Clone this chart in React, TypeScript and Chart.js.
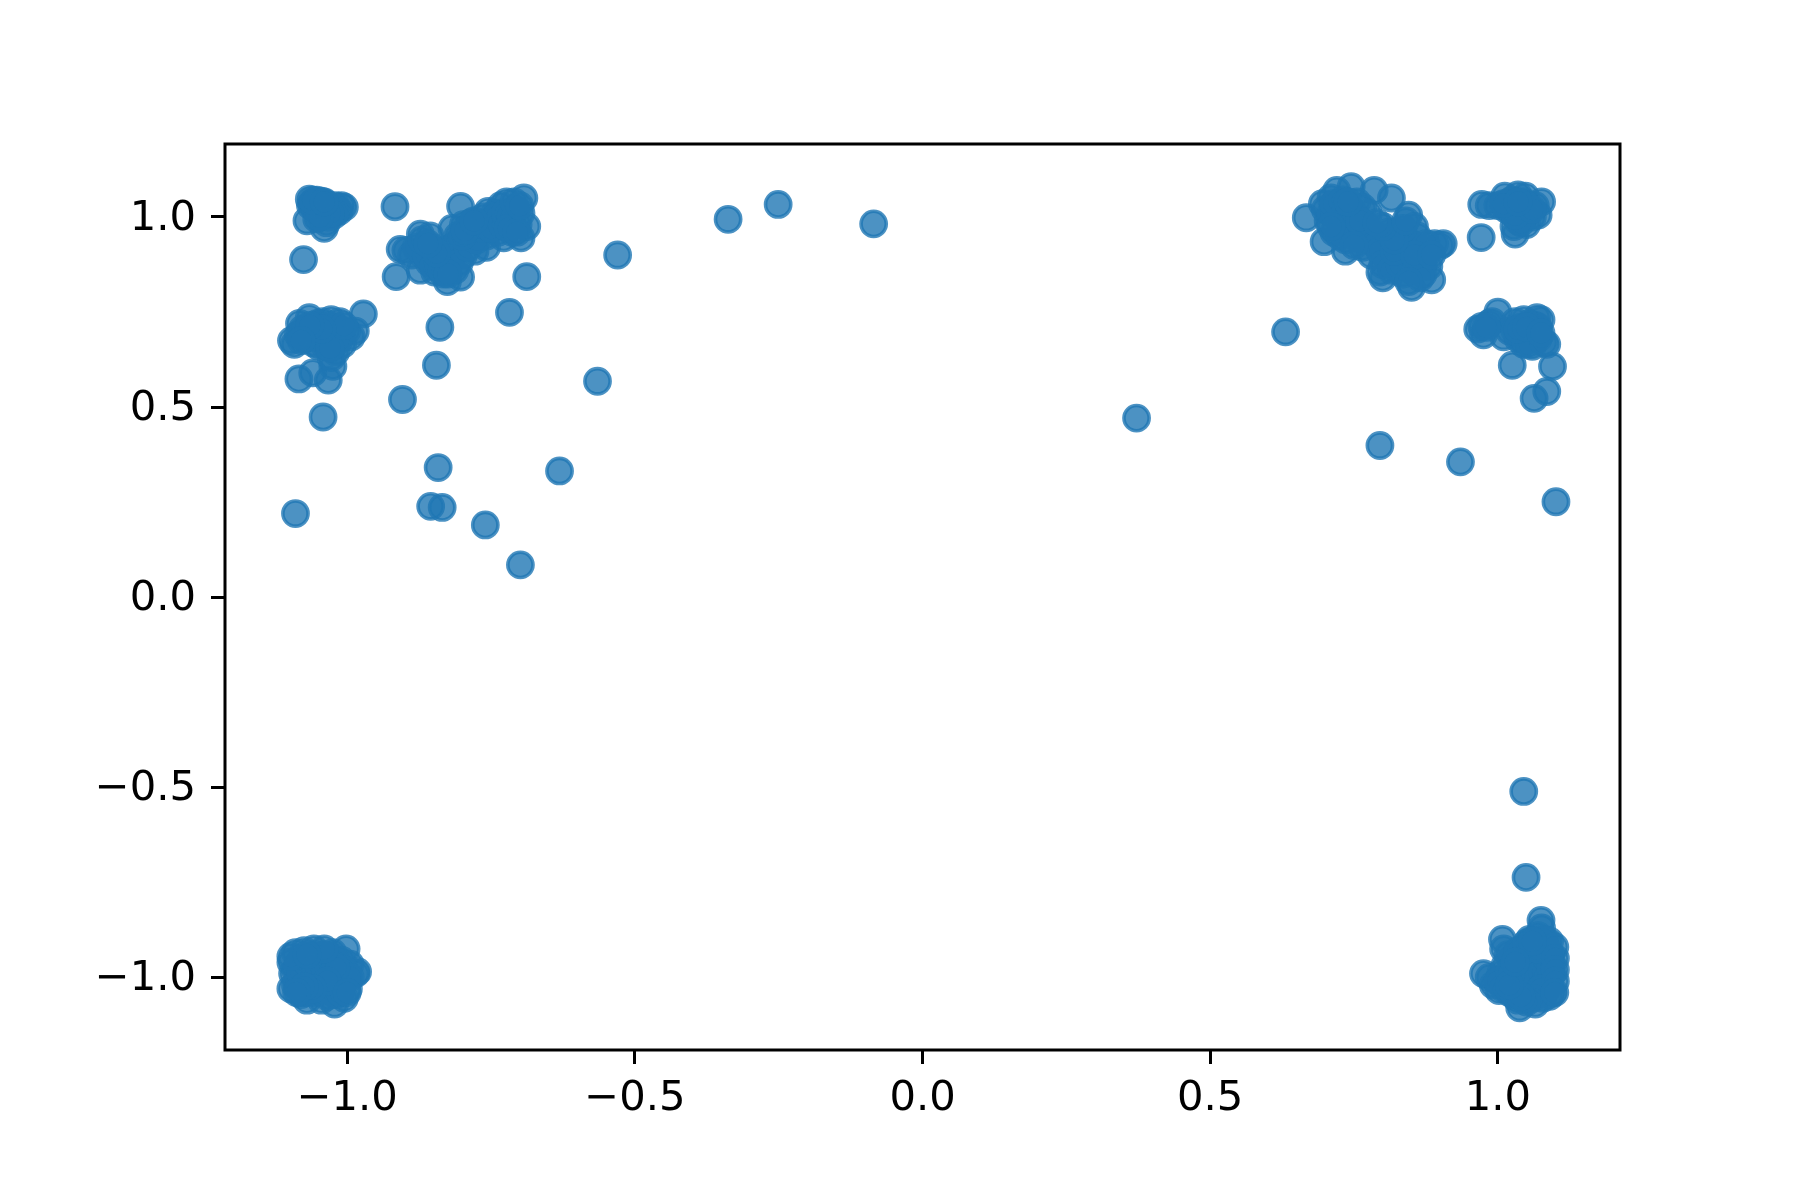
import React, { useEffect, useRef } from "react";
import { Chart, registerables } from "chart.js";

Chart.register(...registerables);

const xTickValues = [-1, -0.5, 0, 0.5, 1];
const yTickValues = [-1, -0.5, 0, 0.5, 1];

const isolated: number[][] = [
  [-1.09, 0.22], [-1.076, 0.888], [-0.917, 1.027], [-0.915, 0.843], [-0.904, 0.52],
  [-0.845, 0.61], [-0.839, 0.71], [-0.842, 0.341], [-0.855, 0.239], [-0.835, 0.236],
  [-0.76, 0.19], [-0.699, 0.085], [-0.631, 0.332], [-0.565, 0.568], [-0.53, 0.9],
  [-0.338, 0.994], [-0.251, 1.033], [-0.085, 0.982], [-0.718, 0.749], [-0.688, 0.843],
  [0.372, 0.471], [0.631, 0.698], [0.795, 0.399], [0.935, 0.356], [1.101, 0.251],
  [1.045, -0.511], [1.049, -0.737], [0.971, 0.946], [1.063, 0.523], [1.085, 0.541],
  [1.095, 0.607], [1.025, 0.61], [-1.042, 0.474], [-1.084, 0.574], [-1.033, 0.571],
  [-1.06, 0.59], [-1.025, 0.607],
];

const topLeftSmall: number[][] = [
  [-1.066, 1.047], [-1.06, 1.038], [-1.053, 1.044], [-1.045, 1.042], [-1.038, 1.035],
  [-1.056, 1.022], [-1.048, 1.018], [-1.036, 1.025], [-1.028, 1.02], [-1.02, 1.03],
  [-1.01, 1.03], [-1.005, 1.026], [-1.014, 1.015], [-1.023, 1.005], [-1.033, 1.0],
  [-1.043, 1.005], [-1.07, 0.99], [-1.053, 0.995], [-1.04, 0.97], [-1.036, 0.985],
  [-1.064, 1.03], [-1.05, 1.03], [-1.042, 1.02], [-1.03, 1.01], [-1.048, 1.0],
  [-1.06, 1.044], [-1.04, 1.04],
];

const leftMiddle: number[][] = [
  [-1.097, 0.675], [-1.092, 0.665], [-1.083, 0.72], [-1.073, 0.68], [-1.066, 0.735],
  [-1.07, 0.7], [-1.058, 0.668], [-1.056, 0.71], [-1.048, 0.69], [-1.043, 0.725],
  [-1.038, 0.66], [-1.036, 0.7], [-1.028, 0.73], [-1.026, 0.68], [-1.02, 0.645],
  [-1.018, 0.71], [-1.013, 0.725], [-1.01, 0.69], [-1.008, 0.665], [-1.001, 0.7],
  [-0.993, 0.685], [-0.986, 0.7], [-0.972, 0.745], [-1.028, 0.63], [-1.05, 0.66],
  [-1.085, 0.69], [-1.078, 0.705], [-1.062, 0.685], [-1.052, 0.72], [-1.04, 0.68],
  [-1.032, 0.715], [-1.022, 0.695], [-1.015, 0.675], [-1.03, 0.655], [-1.006, 0.715],
  [-1.044, 0.705], [-1.065, 0.715], [-1.08, 0.675],
];

const topMiddle: number[][] = [
  [-0.908, 0.915], [-0.898, 0.912], [-0.873, 0.955], [-0.856, 0.95], [-0.888, 0.9],
  [-0.873, 0.86], [-0.868, 0.9], [-0.858, 0.88], [-0.853, 0.92], [-0.848, 0.855],
  [-0.843, 0.89], [-0.838, 0.91], [-0.833, 0.85], [-0.826, 0.83], [-0.823, 0.88],
  [-0.818, 0.92], [-0.813, 0.86], [-0.803, 0.842], [-0.808, 0.95], [-0.798, 0.9],
  [-0.803, 1.028], [-0.798, 0.98], [-0.788, 0.94], [-0.778, 0.91], [-0.773, 0.97],
  [-0.758, 0.92], [-0.758, 0.95], [-0.748, 0.99], [-0.743, 1.01], [-0.738, 0.96],
  [-0.733, 1.03], [-0.728, 0.945], [-0.723, 1.04], [-0.718, 0.99], [-0.713, 0.96],
  [-0.708, 1.02], [-0.703, 0.98], [-0.698, 0.945], [-0.693, 1.05], [-0.688, 0.975],
  [-0.763, 1.0], [-0.783, 0.96], [-0.818, 0.97], [-0.698, 1.01],
  [-0.88, 0.92], [-0.862, 0.9], [-0.85, 0.87], [-0.84, 0.87], [-0.83, 0.905],
  [-0.82, 0.89], [-0.81, 0.93], [-0.805, 0.88], [-0.79, 0.92], [-0.785, 0.985],
  [-0.775, 0.94], [-0.765, 0.97], [-0.755, 1.015], [-0.75, 0.97], [-0.74, 1.0],
  [-0.73, 0.98], [-0.725, 1.01], [-0.715, 1.0], [-0.72, 0.97], [-0.705, 0.96],
  [-0.71, 1.04], [-0.7, 1.03], [-0.835, 0.86], [-0.825, 0.85], [-0.845, 0.905],
  [-0.8, 0.95], [-0.795, 0.965], [-0.87, 0.94], [-0.86, 0.93], [-0.78, 0.99],
];

const topRightBand: number[][] = [
  [0.667, 0.998], [0.695, 1.035], [0.698, 0.935], [0.705, 0.99], [0.71, 1.05],
  [0.72, 1.07], [0.715, 0.96], [0.725, 1.02], [0.735, 0.94], [0.74, 1.0],
  [0.745, 1.08], [0.735, 0.91], [0.755, 1.04], [0.76, 0.96], [0.765, 0.92],
  [0.775, 1.01], [0.785, 1.07], [0.78, 0.9], [0.79, 0.95], [0.8, 0.84],
  [0.795, 0.855], [0.81, 0.93], [0.815, 1.05], [0.82, 0.88], [0.825, 0.96],
  [0.83, 0.91], [0.835, 0.85], [0.845, 1.005], [0.84, 0.94], [0.85, 0.815],
  [0.855, 0.975], [0.86, 0.88], [0.862, 0.92], [0.87, 0.85], [0.875, 0.9],
  [0.885, 0.835], [0.89, 0.93], [0.9, 0.925], [0.905, 0.93], [0.77, 0.98],
  [0.75, 0.98], [0.73, 0.97], [0.72, 1.0], [0.805, 0.9], [0.84, 0.87],
  [0.7, 1.02], [0.71, 1.01], [0.715, 1.035], [0.73, 1.045], [0.735, 1.01],
  [0.745, 1.02], [0.755, 1.0], [0.755, 0.945], [0.745, 0.955], [0.725, 0.95],
  [0.71, 0.975], [0.77, 0.94], [0.785, 0.93], [0.795, 0.91], [0.81, 0.96],
  [0.8, 0.875], [0.815, 0.86], [0.825, 0.93], [0.83, 0.875], [0.845, 0.9],
  [0.85, 0.93], [0.85, 0.86], [0.86, 0.95], [0.87, 0.875], [0.875, 0.93],
  [0.88, 0.87], [0.865, 0.84], [0.835, 0.97], [0.82, 0.91], [0.855, 0.9],
  [0.765, 1.025], [0.76, 0.99], [0.74, 1.04], [0.845, 0.83], [0.82, 0.94],
  [0.8, 0.975], [0.79, 0.985], [0.84, 0.99], [0.885, 0.9], [0.75, 0.925],
];

const topRightSmall: number[][] = [
  [0.972, 1.033], [0.985, 1.03], [1.0, 1.03], [1.012, 1.055], [1.02, 1.04],
  [1.025, 1.01], [1.028, 0.975], [1.03, 0.955], [1.035, 1.058], [1.04, 1.03],
  [1.045, 1.0], [1.048, 1.055], [1.05, 0.98], [1.055, 1.02], [1.06, 1.0],
  [1.065, 1.03], [1.07, 1.005], [1.076, 1.04], [1.035, 0.99], [1.015, 1.02],
  [1.025, 1.045], [1.03, 1.025], [1.04, 1.01], [1.045, 1.04], [1.05, 1.03],
  [1.04, 0.985], [1.03, 1.005], [1.06, 1.02], [1.01, 1.035], [1.035, 1.04],
];

const rightMiddle: number[][] = [
  [0.965, 0.705], [0.972, 0.712], [0.975, 0.69], [0.985, 0.72], [0.99, 0.725],
  [1.0, 0.75], [1.01, 0.685], [1.02, 0.7], [1.03, 0.725], [1.035, 0.68],
  [1.04, 0.71], [1.045, 0.665], [1.05, 0.695], [1.055, 0.72], [1.06, 0.66],
  [1.065, 0.7], [1.068, 0.735], [1.075, 0.73], [1.07, 0.68], [1.085, 0.665],
  [1.03, 0.7], [1.04, 0.69], [1.048, 0.675], [1.055, 0.7], [1.06, 0.685],
  [1.065, 0.715], [1.07, 0.71], [1.045, 0.73], [1.055, 0.665], [1.08, 0.67],
  [1.035, 0.705], [1.05, 0.71], [1.075, 0.695], [0.98, 0.71],
];

const bottomLeft: number[][] = [
  [-1.098, -0.96], [-1.095, -0.99], [-1.098, -1.03], [-1.09, -0.935], [-1.085, -0.965],
  [-1.085, -1.01], [-1.08, -1.045], [-1.075, -0.93], [-1.075, -0.98], [-1.07, -1.06],
  [-1.068, -1.02], [-1.065, -0.95], [-1.06, -1.0], [-1.058, -0.925], [-1.055, -1.04],
  [-1.05, -0.97], [-1.05, -1.02], [-1.045, -1.06], [-1.04, -0.94], [-1.04, -0.995],
  [-1.035, -1.035], [-1.03, -0.965], [-1.03, -1.01], [-1.025, -0.935], [-1.022, -1.07],
  [-1.02, -1.045], [-1.015, -0.985], [-1.012, -1.025], [-1.01, -0.955], [-1.005, -1.055],
  [-1.002, -0.925], [-1.0, -1.0], [-0.998, -1.03], [-0.995, -0.965], [-0.985, -0.99],
  [-0.982, -0.985], [-1.06, -0.975], [-1.045, -1.0], [-1.015, -1.01], [-1.075, -1.005],
  [-1.09, -0.98], [-1.09, -1.02], [-1.08, -0.955], [-1.08, -0.99], [-1.07, -0.96],
  [-1.07, -1.04], [-1.062, -1.015], [-1.055, -0.94], [-1.055, -0.99], [-1.045, -0.955],
  [-1.045, -1.03], [-1.038, -0.975], [-1.035, -1.05], [-1.028, -0.945], [-1.025, -0.99],
  [-1.025, -1.025], [-1.018, -0.96], [-1.012, -1.04], [-1.005, -0.98], [-1.005, -1.01],
  [-0.995, -1.0], [-1.02, -0.975], [-1.035, -1.01], [-1.06, -1.03], [-1.075, -1.025],
  [-1.098, -0.945], [-1.088, -1.04], [-1.04, -0.925], [-1.07, -0.94], [-1.0, -1.04],
];

const bottomRight: number[][] = [
  [0.975, -0.99], [0.985, -1.0], [0.992, -1.02], [1.002, -1.035], [1.005, -0.99],
  [1.008, -0.9], [1.01, -0.925], [1.012, -0.97], [1.015, -1.01], [1.02, -1.04],
  [1.025, -0.95], [1.03, -0.99], [1.035, -1.06], [1.038, -1.08], [1.04, -1.02],
  [1.042, -0.96], [1.045, -0.925], [1.05, -1.0], [1.052, -1.05], [1.055, -0.9],
  [1.06, -0.94], [1.06, -0.98], [1.062, -1.03], [1.065, -1.07], [1.068, -0.91],
  [1.07, -0.96], [1.072, -1.01], [1.075, -0.85], [1.076, -0.87], [1.078, -1.055],
  [1.08, -0.93], [1.082, -0.975], [1.085, -1.03], [1.09, -0.905], [1.092, -0.94],
  [1.093, -0.96], [1.095, -0.99], [1.095, -1.04], [1.09, -1.02], [1.04, -0.98],
  [1.0, -1.01], [1.01, -1.03], [1.018, -0.94], [1.02, -0.985], [1.028, -1.02],
  [1.03, -1.05], [1.035, -0.97], [1.035, -0.93], [1.045, -1.04], [1.048, -0.98],
  [1.05, -0.945], [1.055, -1.02], [1.058, -0.96], [1.065, -1.0], [1.068, -1.045],
  [1.07, -0.89], [1.075, -0.94], [1.078, -0.985], [1.08, -1.02], [1.085, -0.95],
  [1.085, -0.91], [1.088, -1.0], [1.09, -1.05], [1.092, -0.975], [1.075, -1.03],
  [1.06, -1.055], [1.05, -1.065], [1.04, -1.05], [1.068, -0.925], [1.08, -0.9],
  [1.099, -0.92], [1.1, -0.95], [1.1, -0.98], [1.1, -1.01], [1.099, -1.04],
  [1.05, -0.91], [1.06, -0.905], [1.02, -1.02], [1.03, -0.96],
];

const allPoints = [
  ...isolated, ...topLeftSmall, ...leftMiddle, ...topMiddle, ...topRightBand,
  ...topRightSmall, ...rightMiddle, ...bottomLeft, ...bottomRight,
];

const fmt = (v: number) => v.toFixed(1).replace("-", "\u2212");

const framePlugin = {
  id: "frame",
  afterDraw(chart: any) {
    const { ctx, chartArea: a } = chart;
    ctx.save();
    ctx.strokeStyle = "#000";
    ctx.lineWidth = 3;
    ctx.strokeRect(a.left, a.top, a.right - a.left, a.bottom - a.top);
    ctx.restore();
  },
};

export default function App() {
  const ref = useRef<HTMLCanvasElement>(null);
  useEffect(() => {
    document.body.style.margin = "0";
    document.body.style.background = "#fff";
    const font = { family: "'DejaVu Sans'", size: 41.7 };
    const grid = {
      drawOnChartArea: false,
      drawTicks: true,
      tickLength: 14,
      tickWidth: 3,
      tickColor: "#000",
    };
    const chart = new Chart(ref.current!, {
      type: "scatter",
      data: {
        datasets: [
          {
            data: allPoints.map(([x, y]) => ({ x, y })),
            backgroundColor: "rgba(31,119,180,0.8)",
            borderColor: "rgba(31,119,180,0.8)",
            borderWidth: 3.6,
            pointRadius: 12.6,
          },
        ],
      },
      plugins: [framePlugin],
      options: {
        animation: false,
        responsive: false,
        devicePixelRatio: 1,
        events: [],
        layout: { padding: { left: 0, top: 144, right: 180, bottom: 0 } },
        plugins: { legend: { display: false }, tooltip: { enabled: false } },
        scales: {
          x: {
            type: "linear",
            min: -1.2125,
            max: 1.2123,
            grid,
            border: { display: false },
            afterBuildTicks: (s: any) => {
              s.ticks = xTickValues.map((value) => ({ value }));
            },
            afterFit: (s: any) => {
              s.height = 150;
            },
            ticks: {
              color: "#000",
              font,
              padding: 10,
              maxRotation: 0,
              autoSkip: false,
              callback: (v: any) => fmt(Number(v)),
            },
          },
          y: {
            type: "linear",
            min: -1.191,
            max: 1.192,
            grid,
            border: { display: false },
            afterBuildTicks: (s: any) => {
              s.ticks = yTickValues.map((value) => ({ value }));
            },
            afterFit: (s: any) => {
              s.width = 225;
            },
            ticks: {
              color: "#000",
              font,
              padding: 15,
              labelOffset: 2,
              autoSkip: false,
              callback: (v: any) => fmt(Number(v)),
            },
          },
        },
      },
    } as any);
    return () => chart.destroy();
  }, []);
  return (
    <canvas
      ref={ref}
      width={1800}
      height={1200}
      style={{ display: "block", width: 1800, height: 1200 }}
    />
  );
}
